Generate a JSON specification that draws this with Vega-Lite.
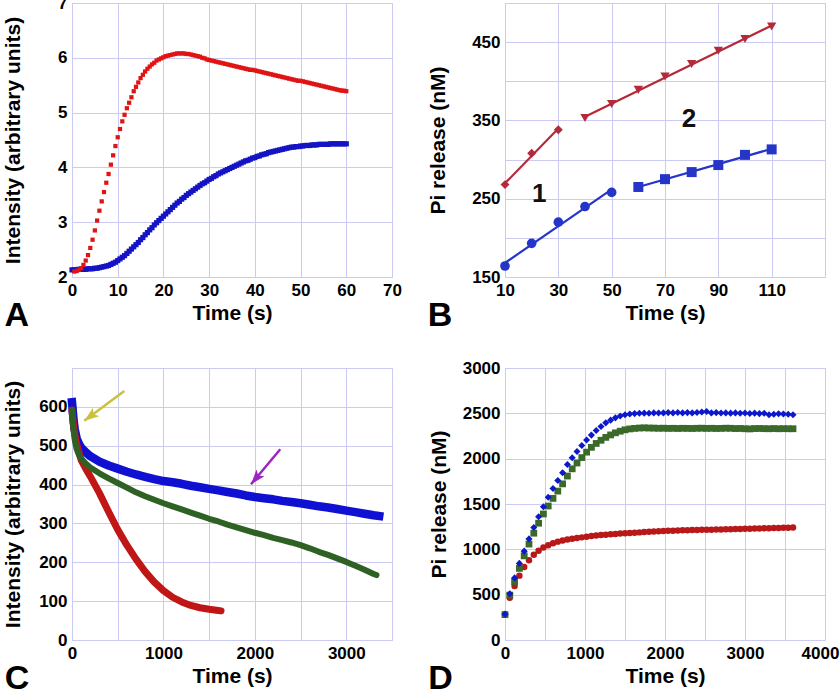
{
"$schema": "https://vega.github.io/schema/vega-lite/v6.json",
"padding": {"left": 2, "top": -7, "right": 0, "bottom": 0},
"background": "white",
"columns": 2,
"bounds": "flush",
"spacing": {"row": 91, "column": 113},
"resolve": {"scale": {"color": "independent", "shape": "independent", "size": "independent"}},
"concat": [
{
"width": 320, "height": 274,
"title": {"text": "A", "dx": 2},
"data": {"values": [
{"s":"b","t":0,"v":2.13},{"s":"b","t":0.5,"v":2.13},{"s":"b","t":1,"v":2.13},{"s":"b","t":1.5,"v":2.14},{"s":"b","t":2,"v":2.14},{"s":"b","t":2.5,"v":2.14},{"s":"b","t":3,"v":2.14},{"s":"b","t":3.5,"v":2.15},{"s":"b","t":4,"v":2.15},{"s":"b","t":4.5,"v":2.15},{"s":"b","t":5,"v":2.16},{"s":"b","t":5.5,"v":2.16},{"s":"b","t":6,"v":2.17},{"s":"b","t":6.5,"v":2.18},{"s":"b","t":7,"v":2.19},{"s":"b","t":7.5,"v":2.2},{"s":"b","t":8,"v":2.21},{"s":"b","t":8.5,"v":2.23},{"s":"b","t":9,"v":2.25},{"s":"b","t":9.5,"v":2.27},{"s":"b","t":10,"v":2.3},{"s":"b","t":10.5,"v":2.33},{"s":"b","t":11,"v":2.36},{"s":"b","t":11.5,"v":2.39},{"s":"b","t":12,"v":2.43},{"s":"b","t":12.5,"v":2.47},{"s":"b","t":13,"v":2.51},{"s":"b","t":13.5,"v":2.55},{"s":"b","t":14,"v":2.59},{"s":"b","t":14.5,"v":2.63},{"s":"b","t":15,"v":2.68},{"s":"b","t":15.5,"v":2.72},{"s":"b","t":16,"v":2.77},{"s":"b","t":16.5,"v":2.81},{"s":"b","t":17,"v":2.86},{"s":"b","t":17.5,"v":2.9},{"s":"b","t":18,"v":2.95},{"s":"b","t":18.5,"v":2.99},{"s":"b","t":19,"v":3.03},{"s":"b","t":19.5,"v":3.07},{"s":"b","t":20,"v":3.11},{"s":"b","t":20.5,"v":3.15},{"s":"b","t":21,"v":3.19},{"s":"b","t":21.5,"v":3.23},{"s":"b","t":22,"v":3.27},{"s":"b","t":22.5,"v":3.31},{"s":"b","t":23,"v":3.35},{"s":"b","t":23.5,"v":3.38},{"s":"b","t":24,"v":3.42},{"s":"b","t":24.5,"v":3.45},{"s":"b","t":25,"v":3.49},{"s":"b","t":25.5,"v":3.52},{"s":"b","t":26,"v":3.55},{"s":"b","t":26.5,"v":3.58},{"s":"b","t":27,"v":3.61},{"s":"b","t":27.5,"v":3.64},{"s":"b","t":28,"v":3.67},{"s":"b","t":28.5,"v":3.7},{"s":"b","t":29,"v":3.72},{"s":"b","t":29.5,"v":3.75},{"s":"b","t":30,"v":3.78},{"s":"b","t":30.5,"v":3.8},{"s":"b","t":31,"v":3.83},{"s":"b","t":31.5,"v":3.85},{"s":"b","t":32,"v":3.88},{"s":"b","t":32.5,"v":3.9},{"s":"b","t":33,"v":3.92},{"s":"b","t":33.5,"v":3.94},{"s":"b","t":34,"v":3.96},{"s":"b","t":34.5,"v":3.98},{"s":"b","t":35,"v":4.0},{"s":"b","t":35.5,"v":4.02},{"s":"b","t":36,"v":4.04},{"s":"b","t":36.5,"v":4.06},{"s":"b","t":37,"v":4.08},{"s":"b","t":37.5,"v":4.1},{"s":"b","t":38,"v":4.12},{"s":"b","t":38.5,"v":4.13},{"s":"b","t":39,"v":4.15},{"s":"b","t":39.5,"v":4.17},{"s":"b","t":40,"v":4.18},{"s":"b","t":40.5,"v":4.2},{"s":"b","t":41,"v":4.21},{"s":"b","t":41.5,"v":4.23},{"s":"b","t":42,"v":4.24},{"s":"b","t":42.5,"v":4.25},{"s":"b","t":43,"v":4.27},{"s":"b","t":43.5,"v":4.28},{"s":"b","t":44,"v":4.29},{"s":"b","t":44.5,"v":4.3},{"s":"b","t":45,"v":4.31},{"s":"b","t":45.5,"v":4.32},{"s":"b","t":46,"v":4.33},{"s":"b","t":46.5,"v":4.34},{"s":"b","t":47,"v":4.35},{"s":"b","t":47.5,"v":4.36},{"s":"b","t":48,"v":4.37},{"s":"b","t":48.5,"v":4.37},{"s":"b","t":49,"v":4.38},{"s":"b","t":49.5,"v":4.38},{"s":"b","t":50,"v":4.39},{"s":"b","t":50.5,"v":4.39},{"s":"b","t":51,"v":4.4},{"s":"b","t":51.5,"v":4.4},{"s":"b","t":52,"v":4.4},{"s":"b","t":52.5,"v":4.41},{"s":"b","t":53,"v":4.41},{"s":"b","t":53.5,"v":4.41},{"s":"b","t":54,"v":4.42},{"s":"b","t":54.5,"v":4.42},{"s":"b","t":55,"v":4.42},{"s":"b","t":55.5,"v":4.42},{"s":"b","t":56,"v":4.42},{"s":"b","t":56.5,"v":4.43},{"s":"b","t":57,"v":4.43},{"s":"b","t":57.5,"v":4.43},{"s":"b","t":58,"v":4.43},{"s":"b","t":58.5,"v":4.43},{"s":"b","t":59,"v":4.43},{"s":"b","t":59.5,"v":4.43},{"s":"b","t":60,"v":4.43},
{"s":"r","t":0.5,"v":2.1},{"s":"r","t":1,"v":2.11},{"s":"r","t":1.5,"v":2.13},{"s":"r","t":2,"v":2.16},{"s":"r","t":2.5,"v":2.22},{"s":"r","t":3,"v":2.3},{"s":"r","t":3.5,"v":2.4},{"s":"r","t":4,"v":2.53},{"s":"r","t":4.5,"v":2.68},{"s":"r","t":5,"v":2.85},{"s":"r","t":5.5,"v":3.03},{"s":"r","t":6,"v":3.21},{"s":"r","t":6.5,"v":3.38},{"s":"r","t":7,"v":3.55},{"s":"r","t":7.5,"v":3.72},{"s":"r","t":8,"v":3.88},{"s":"r","t":8.5,"v":4.05},{"s":"r","t":9,"v":4.22},{"s":"r","t":9.5,"v":4.39},{"s":"r","t":10,"v":4.55},{"s":"r","t":10.5,"v":4.7},{"s":"r","t":11,"v":4.84},{"s":"r","t":11.5,"v":4.96},{"s":"r","t":12,"v":5.08},{"s":"r","t":12.5,"v":5.18},{"s":"r","t":13,"v":5.28},{"s":"r","t":13.5,"v":5.39},{"s":"r","t":14,"v":5.47},{"s":"r","t":14.5,"v":5.55},{"s":"r","t":15,"v":5.63},{"s":"r","t":15.5,"v":5.69},{"s":"r","t":16,"v":5.75},{"s":"r","t":16.5,"v":5.8},{"s":"r","t":17,"v":5.84},{"s":"r","t":17.5,"v":5.88},{"s":"r","t":18,"v":5.91},{"s":"r","t":18.5,"v":5.95},{"s":"r","t":19,"v":5.97},{"s":"r","t":19.5,"v":5.99},{"s":"r","t":20,"v":6.01},{"s":"r","t":20.5,"v":6.03},{"s":"r","t":21,"v":6.04},{"s":"r","t":21.5,"v":6.05},{"s":"r","t":22,"v":6.06},{"s":"r","t":22.5,"v":6.07},{"s":"r","t":23,"v":6.08},{"s":"r","t":23.5,"v":6.08},{"s":"r","t":24,"v":6.08},{"s":"r","t":24.5,"v":6.08},{"s":"r","t":25,"v":6.07},{"s":"r","t":25.5,"v":6.07},{"s":"r","t":26,"v":6.06},{"s":"r","t":26.5,"v":6.05},{"s":"r","t":27,"v":6.04},{"s":"r","t":27.5,"v":6.03},{"s":"r","t":28,"v":6.02},{"s":"r","t":28.5,"v":6.0},{"s":"r","t":29,"v":5.99},{"s":"r","t":29.5,"v":5.97},{"s":"r","t":30,"v":5.96},{"s":"r","t":30.5,"v":5.95},{"s":"r","t":31,"v":5.94},{"s":"r","t":31.5,"v":5.93},{"s":"r","t":32,"v":5.92},{"s":"r","t":32.5,"v":5.91},{"s":"r","t":33,"v":5.9},{"s":"r","t":33.5,"v":5.89},{"s":"r","t":34,"v":5.88},{"s":"r","t":34.5,"v":5.87},{"s":"r","t":35,"v":5.86},{"s":"r","t":35.5,"v":5.85},{"s":"r","t":36,"v":5.84},{"s":"r","t":36.5,"v":5.83},{"s":"r","t":37,"v":5.82},{"s":"r","t":37.5,"v":5.81},{"s":"r","t":38,"v":5.8},{"s":"r","t":38.5,"v":5.79},{"s":"r","t":39,"v":5.78},{"s":"r","t":39.5,"v":5.78},{"s":"r","t":40,"v":5.77},{"s":"r","t":40.5,"v":5.76},{"s":"r","t":41,"v":5.75},{"s":"r","t":41.5,"v":5.74},{"s":"r","t":42,"v":5.73},{"s":"r","t":42.5,"v":5.72},{"s":"r","t":43,"v":5.71},{"s":"r","t":43.5,"v":5.7},{"s":"r","t":44,"v":5.69},{"s":"r","t":44.5,"v":5.68},{"s":"r","t":45,"v":5.67},{"s":"r","t":45.5,"v":5.66},{"s":"r","t":46,"v":5.65},{"s":"r","t":46.5,"v":5.64},{"s":"r","t":47,"v":5.63},{"s":"r","t":47.5,"v":5.62},{"s":"r","t":48,"v":5.61},{"s":"r","t":48.5,"v":5.6},{"s":"r","t":49,"v":5.59},{"s":"r","t":49.5,"v":5.58},{"s":"r","t":50,"v":5.58},{"s":"r","t":50.5,"v":5.57},{"s":"r","t":51,"v":5.56},{"s":"r","t":51.5,"v":5.55},{"s":"r","t":52,"v":5.54},{"s":"r","t":52.5,"v":5.53},{"s":"r","t":53,"v":5.52},{"s":"r","t":53.5,"v":5.51},{"s":"r","t":54,"v":5.5},{"s":"r","t":54.5,"v":5.49},{"s":"r","t":55,"v":5.48},{"s":"r","t":55.5,"v":5.47},{"s":"r","t":56,"v":5.46},{"s":"r","t":56.5,"v":5.45},{"s":"r","t":57,"v":5.44},{"s":"r","t":57.5,"v":5.43},{"s":"r","t":58,"v":5.42},{"s":"r","t":58.5,"v":5.41},{"s":"r","t":59,"v":5.4},{"s":"r","t":59.5,"v":5.4},{"s":"r","t":60,"v":5.39}
]},
"mark": {"type": "point", "shape": "square", "filled": true, "opacity": 1},
"encoding": {
"x": {"field": "t", "type": "quantitative", "scale": {"domain": [0, 70], "nice": false, "zero": false}, "axis": {"title": "Time (s)", "values": [0,10,20,30,40,50,60,70], "format": "d"}},
"y": {"field": "v", "type": "quantitative", "scale": {"domain": [2, 7], "nice": false, "zero": false}, "axis": {"title": "Intensity (arbitrary units)", "values": [2,3,4,5,6,7], "format": "d", "titlePadding": 34}},
"color": {"field": "s", "type": "nominal", "scale": {"domain": ["r","b"], "range": ["#e01414","#1414c4"]}, "legend": null},
"size": {"field": "s", "type": "nominal", "scale": {"domain": ["r","b"], "range": [18, 27]}, "legend": null}
}
},
{
"width": 320, "height": 274,
"title": {"text": "B", "dx": 0},
"data": {"values": [
{"seg":"r1","c":"r","t":10,"v":268},{"seg":"r1","c":"r","t":20,"v":308},{"seg":"r1","c":"r","t":30,"v":338},
{"seg":"r2","c":"r","t":40,"v":353},{"seg":"r2","c":"r","t":50,"v":371},{"seg":"r2","c":"r","t":60,"v":389},{"seg":"r2","c":"r","t":70,"v":406},{"seg":"r2","c":"r","t":80,"v":422},{"seg":"r2","c":"r","t":90,"v":439},{"seg":"r2","c":"r","t":100,"v":454},{"seg":"r2","c":"r","t":110,"v":470},
{"seg":"b1","c":"b","t":10,"v":164},{"seg":"b1","c":"b","t":20,"v":193},{"seg":"b1","c":"b","t":30,"v":220},{"seg":"b1","c":"b","t":40,"v":240},{"seg":"b1","c":"b","t":50,"v":258},
{"seg":"b2","c":"b","t":60,"v":265},{"seg":"b2","c":"b","t":70,"v":275},{"seg":"b2","c":"b","t":80,"v":284},{"seg":"b2","c":"b","t":90,"v":293},{"seg":"b2","c":"b","t":100,"v":306},{"seg":"b2","c":"b","t":110,"v":313}
]},
"encoding": {
"x": {"field": "t", "type": "quantitative", "scale": {"domain": [10, 130], "nice": false, "zero": false}, "axis": {"title": "Time (s)", "values": [10,30,50,70,90,110,130], "format": "d", "labelExpr": "datum.value == 130 ? '' : datum.label"}},
"y": {"field": "v", "type": "quantitative", "scale": {"domain": [150, 500], "nice": false, "zero": false}, "axis": {"title": "Pi release (nM)", "values": [150,200,250,300,350,400,450,500], "format": "d", "labelExpr": "datum.value % 100 == 50 ? datum.label : ''", "titlePadding": 23}}
},
"layer": [
{"transform": [{"regression": "v", "on": "t", "groupby": ["seg","c"]}],
 "mark": {"type": "line", "strokeWidth": 2.2},
 "encoding": {"color": {"field": "c", "type": "nominal", "scale": {"domain": ["r","b"], "range": ["#b52a3a","#2535c8"]}, "legend": null}, "detail": {"field": "seg"}}},
{"mark": {"type": "point", "filled": true, "opacity": 1},
 "encoding": {
  "color": {"field": "c", "type": "nominal", "scale": {"domain": ["r","b"], "range": ["#b52a3a","#2535c8"]}, "legend": null},
  "shape": {"field": "seg", "type": "nominal", "scale": {"domain": ["r1","r2","b1","b2"], "range": ["diamond","triangle-down","circle","square"]}, "legend": null},
  "size": {"field": "seg", "type": "nominal", "scale": {"domain": ["r1","r2","b1","b2"], "range": [80, 100, 60, 68]}, "legend": null}
 }},
{"data": {"values": [{"t": 22.8, "v": 256, "lab": "1"}, {"t": 79, "v": 352, "lab": "2"}]},
 "mark": {"type": "text", "fontSize": 26, "fontWeight": "bold", "color": "#111", "font": "Liberation Sans"},
 "encoding": {"text": {"field": "lab"}}}
]
},
{
"width": 320, "height": 272,
"title": {"text": "C", "dx": 2},
"data": {"values": [
{"s":"b","t":0,"v":612},{"s":"b","t":5,"v":600},{"s":"b","t":10,"v":585},{"s":"b","t":20,"v":560},{"s":"b","t":30,"v":542},{"s":"b","t":50,"v":520},{"s":"b","t":75,"v":505},{"s":"b","t":100,"v":495},{"s":"b","t":150,"v":483},{"s":"b","t":200,"v":473},{"s":"b","t":300,"v":459},{"s":"b","t":400,"v":449},{"s":"b","t":500,"v":441},{"s":"b","t":600,"v":433},{"s":"b","t":700,"v":426},{"s":"b","t":800,"v":420},{"s":"b","t":900,"v":414},{"s":"b","t":1000,"v":409},{"s":"b","t":1100,"v":406},{"s":"b","t":1200,"v":402},{"s":"b","t":1300,"v":397},{"s":"b","t":1400,"v":393},{"s":"b","t":1500,"v":389},{"s":"b","t":1600,"v":385},{"s":"b","t":1700,"v":381},{"s":"b","t":1800,"v":377},{"s":"b","t":1900,"v":372},{"s":"b","t":2000,"v":368},{"s":"b","t":2100,"v":365},{"s":"b","t":2200,"v":362},{"s":"b","t":2300,"v":358},{"s":"b","t":2400,"v":355},{"s":"b","t":2500,"v":352},{"s":"b","t":2600,"v":348},{"s":"b","t":2700,"v":344},{"s":"b","t":2800,"v":341},{"s":"b","t":2900,"v":337},{"s":"b","t":3000,"v":333},{"s":"b","t":3100,"v":329},{"s":"b","t":3200,"v":325},{"s":"b","t":3300,"v":321},{"s":"b","t":3360,"v":319},
{"s":"r","t":0,"v":592},{"s":"r","t":20,"v":545},{"s":"r","t":50,"v":505},{"s":"r","t":100,"v":463},{"s":"r","t":150,"v":441},{"s":"r","t":200,"v":421},{"s":"r","t":300,"v":378},{"s":"r","t":400,"v":330},{"s":"r","t":500,"v":284},{"s":"r","t":600,"v":244},{"s":"r","t":700,"v":208},{"s":"r","t":800,"v":176},{"s":"r","t":900,"v":149},{"s":"r","t":1000,"v":127},{"s":"r","t":1100,"v":110},{"s":"r","t":1200,"v":98},{"s":"r","t":1300,"v":89},{"s":"r","t":1400,"v":83},{"s":"r","t":1500,"v":79},{"s":"r","t":1600,"v":76},{"s":"r","t":1630,"v":75},
{"s":"g","t":0,"v":592},{"s":"g","t":5,"v":575},{"s":"g","t":10,"v":558},{"s":"g","t":20,"v":533},{"s":"g","t":30,"v":515},{"s":"g","t":50,"v":492},{"s":"g","t":75,"v":477},{"s":"g","t":100,"v":467},{"s":"g","t":150,"v":454},{"s":"g","t":200,"v":444},{"s":"g","t":300,"v":429},{"s":"g","t":400,"v":416},{"s":"g","t":500,"v":404},{"s":"g","t":600,"v":392},{"s":"g","t":700,"v":380},{"s":"g","t":800,"v":370},{"s":"g","t":900,"v":361},{"s":"g","t":1000,"v":352},{"s":"g","t":1100,"v":344},{"s":"g","t":1200,"v":336},{"s":"g","t":1300,"v":328},{"s":"g","t":1400,"v":320},{"s":"g","t":1500,"v":312},{"s":"g","t":1600,"v":305},{"s":"g","t":1700,"v":297},{"s":"g","t":1800,"v":290},{"s":"g","t":1900,"v":283},{"s":"g","t":2000,"v":276},{"s":"g","t":2100,"v":270},{"s":"g","t":2200,"v":263},{"s":"g","t":2300,"v":257},{"s":"g","t":2400,"v":251},{"s":"g","t":2500,"v":244},{"s":"g","t":2600,"v":236},{"s":"g","t":2700,"v":227},{"s":"g","t":2800,"v":219},{"s":"g","t":2900,"v":210},{"s":"g","t":3000,"v":201},{"s":"g","t":3100,"v":191},{"s":"g","t":3200,"v":181},{"s":"g","t":3300,"v":170},{"s":"g","t":3330,"v":167}
]},
"encoding": {
"x": {"field": "t", "type": "quantitative", "scale": {"domain": [0, 3500], "nice": false, "zero": false}, "axis": {"title": "Time (s)", "values": [0,500,1000,1500,2000,2500,3000,3500], "format": "d", "labelExpr": "datum.value % 1000 == 0 ? datum.label : ''"}},
"y": {"field": "v", "type": "quantitative", "scale": {"domain": [0, 700], "nice": false, "zero": false}, "axis": {"title": "Intensity (arbitrary units)", "values": [0,100,200,300,400,500,600,700], "format": "d", "labelExpr": "datum.value == 700 ? '' : datum.label", "titlePadding": 15}}
},
"layer": [
{"transform": [{"filter": "datum.s == 'b'"}], "mark": {"type": "line", "color": "#1010d2", "strokeWidth": 8.5, "strokeCap": "square", "strokeJoin": "round"}},
{"transform": [{"filter": "datum.s == 'r'"}], "mark": {"type": "line", "color": "#c01616", "strokeWidth": 7, "strokeCap": "round", "strokeJoin": "round"}},
{"transform": [{"filter": "datum.s == 'g'"}], "mark": {"type": "line", "color": "#2f6124", "strokeWidth": 6, "strokeCap": "round", "strokeJoin": "round"}},
{"data": {"values": [{"t": 572, "v": 641, "t2": 135, "v2": 564}]}, "mark": {"type": "rule", "color": "#c9c23c", "strokeWidth": 2.5}, "encoding": {"x2": {"field": "t2"}, "y2": {"field": "v2"}}},
{"data": {"values": [{"t": 135, "v": 564}]}, "mark": {"type": "point", "filled": true, "opacity": 1, "color": "#c9c23c", "shape": "M0,0L0.6,1.7L0,1.3L-0.6,1.7Z", "size": 300, "angle": 233}},
{"data": {"values": [{"t": 2278, "v": 491, "t2": 1958, "v2": 401}]}, "mark": {"type": "rule", "color": "#9a26c0", "strokeWidth": 2.5}, "encoding": {"x2": {"field": "t2"}, "y2": {"field": "v2"}}},
{"data": {"values": [{"t": 1958, "v": 401}]}, "mark": {"type": "point", "filled": true, "opacity": 1, "color": "#9a26c0", "shape": "M0,0L0.6,1.7L0,1.3L-0.6,1.7Z", "size": 300, "angle": 220}}
]
},
{
"width": 320, "height": 272,
"title": {"text": "D", "dx": 0},
"data": {"values": [
{"s":"r","t":0,"v":280},{"s":"r","t":60,"v":465},{"s":"r","t":120,"v":595},{"s":"r","t":180,"v":710},{"s":"r","t":240,"v":805},{"s":"r","t":300,"v":880},{"s":"r","t":360,"v":940},{"s":"r","t":420,"v":985},{"s":"r","t":480,"v":1020},{"s":"r","t":540,"v":1045},{"s":"r","t":600,"v":1068},{"s":"r","t":660,"v":1085},{"s":"r","t":720,"v":1097},{"s":"r","t":780,"v":1108},{"s":"r","t":840,"v":1117},{"s":"r","t":900,"v":1125},{"s":"r","t":960,"v":1132},{"s":"r","t":1020,"v":1140},{"s":"r","t":1080,"v":1146},{"s":"r","t":1140,"v":1152},{"s":"r","t":1200,"v":1157},{"s":"r","t":1260,"v":1162},{"s":"r","t":1320,"v":1166},{"s":"r","t":1380,"v":1170},{"s":"r","t":1440,"v":1174},{"s":"r","t":1500,"v":1178},{"s":"r","t":1560,"v":1181},{"s":"r","t":1620,"v":1184},{"s":"r","t":1680,"v":1187},{"s":"r","t":1740,"v":1190},{"s":"r","t":1800,"v":1193},{"s":"r","t":1860,"v":1196},{"s":"r","t":1920,"v":1199},{"s":"r","t":1980,"v":1202},{"s":"r","t":2040,"v":1204},{"s":"r","t":2100,"v":1206},{"s":"r","t":2160,"v":1208},{"s":"r","t":2220,"v":1210},{"s":"r","t":2280,"v":1211},{"s":"r","t":2340,"v":1212},{"s":"r","t":2400,"v":1214},{"s":"r","t":2460,"v":1215},{"s":"r","t":2520,"v":1216},{"s":"r","t":2580,"v":1217},{"s":"r","t":2640,"v":1218},{"s":"r","t":2700,"v":1220},{"s":"r","t":2760,"v":1221},{"s":"r","t":2820,"v":1222},{"s":"r","t":2880,"v":1224},{"s":"r","t":2940,"v":1225},{"s":"r","t":3000,"v":1227},{"s":"r","t":3060,"v":1228},{"s":"r","t":3120,"v":1229},{"s":"r","t":3180,"v":1230},{"s":"r","t":3240,"v":1232},{"s":"r","t":3300,"v":1233},{"s":"r","t":3360,"v":1235},{"s":"r","t":3420,"v":1236},{"s":"r","t":3480,"v":1238},{"s":"r","t":3540,"v":1239},{"s":"r","t":3600,"v":1240},
{"s":"g","t":0,"v":280},{"s":"g","t":60,"v":495},{"s":"g","t":120,"v":645},{"s":"g","t":180,"v":790},{"s":"g","t":240,"v":928},{"s":"g","t":300,"v":1058},{"s":"g","t":360,"v":1178},{"s":"g","t":420,"v":1288},{"s":"g","t":480,"v":1390},{"s":"g","t":540,"v":1478},{"s":"g","t":600,"v":1562},{"s":"g","t":660,"v":1642},{"s":"g","t":720,"v":1722},{"s":"g","t":780,"v":1808},{"s":"g","t":840,"v":1888},{"s":"g","t":900,"v":1952},{"s":"g","t":960,"v":2012},{"s":"g","t":1020,"v":2072},{"s":"g","t":1080,"v":2125},{"s":"g","t":1140,"v":2168},{"s":"g","t":1200,"v":2203},{"s":"g","t":1260,"v":2235},{"s":"g","t":1320,"v":2262},{"s":"g","t":1380,"v":2285},{"s":"g","t":1440,"v":2303},{"s":"g","t":1500,"v":2318},{"s":"g","t":1560,"v":2328},{"s":"g","t":1620,"v":2334},{"s":"g","t":1680,"v":2338},{"s":"g","t":1740,"v":2340},{"s":"g","t":1800,"v":2338},{"s":"g","t":1860,"v":2337},{"s":"g","t":1920,"v":2335},{"s":"g","t":1980,"v":2336},{"s":"g","t":2040,"v":2334},{"s":"g","t":2100,"v":2335},{"s":"g","t":2160,"v":2333},{"s":"g","t":2220,"v":2335},{"s":"g","t":2280,"v":2334},{"s":"g","t":2340,"v":2333},{"s":"g","t":2400,"v":2335},{"s":"g","t":2460,"v":2336},{"s":"g","t":2520,"v":2334},{"s":"g","t":2580,"v":2335},{"s":"g","t":2640,"v":2333},{"s":"g","t":2700,"v":2334},{"s":"g","t":2760,"v":2336},{"s":"g","t":2820,"v":2335},{"s":"g","t":2880,"v":2332},{"s":"g","t":2940,"v":2333},{"s":"g","t":3000,"v":2330},{"s":"g","t":3060,"v":2328},{"s":"g","t":3120,"v":2332},{"s":"g","t":3180,"v":2333},{"s":"g","t":3240,"v":2331},{"s":"g","t":3300,"v":2330},{"s":"g","t":3360,"v":2332},{"s":"g","t":3420,"v":2330},{"s":"g","t":3480,"v":2331},{"s":"g","t":3540,"v":2330},{"s":"g","t":3600,"v":2330},
{"s":"b","t":0,"v":285},{"s":"b","t":60,"v":510},{"s":"b","t":120,"v":685},{"s":"b","t":180,"v":845},{"s":"b","t":240,"v":980},{"s":"b","t":300,"v":1115},{"s":"b","t":360,"v":1240},{"s":"b","t":420,"v":1360},{"s":"b","t":480,"v":1470},{"s":"b","t":540,"v":1575},{"s":"b","t":600,"v":1670},{"s":"b","t":660,"v":1760},{"s":"b","t":720,"v":1845},{"s":"b","t":780,"v":1935},{"s":"b","t":840,"v":2010},{"s":"b","t":900,"v":2080},{"s":"b","t":960,"v":2145},{"s":"b","t":1020,"v":2205},{"s":"b","t":1080,"v":2260},{"s":"b","t":1140,"v":2310},{"s":"b","t":1200,"v":2355},{"s":"b","t":1260,"v":2395},{"s":"b","t":1320,"v":2425},{"s":"b","t":1380,"v":2450},{"s":"b","t":1440,"v":2470},{"s":"b","t":1500,"v":2485},{"s":"b","t":1560,"v":2492},{"s":"b","t":1620,"v":2497},{"s":"b","t":1680,"v":2500},{"s":"b","t":1740,"v":2502},{"s":"b","t":1800,"v":2500},{"s":"b","t":1860,"v":2505},{"s":"b","t":1920,"v":2503},{"s":"b","t":1980,"v":2505},{"s":"b","t":2040,"v":2508},{"s":"b","t":2100,"v":2505},{"s":"b","t":2160,"v":2510},{"s":"b","t":2220,"v":2505},{"s":"b","t":2280,"v":2508},{"s":"b","t":2340,"v":2505},{"s":"b","t":2400,"v":2510},{"s":"b","t":2460,"v":2515},{"s":"b","t":2520,"v":2520},{"s":"b","t":2580,"v":2505},{"s":"b","t":2640,"v":2508},{"s":"b","t":2700,"v":2503},{"s":"b","t":2760,"v":2505},{"s":"b","t":2820,"v":2502},{"s":"b","t":2880,"v":2505},{"s":"b","t":2940,"v":2500},{"s":"b","t":3000,"v":2503},{"s":"b","t":3060,"v":2498},{"s":"b","t":3120,"v":2502},{"s":"b","t":3180,"v":2497},{"s":"b","t":3240,"v":2500},{"s":"b","t":3300,"v":2485},{"s":"b","t":3360,"v":2490},{"s":"b","t":3420,"v":2495},{"s":"b","t":3480,"v":2492},{"s":"b","t":3540,"v":2490},{"s":"b","t":3600,"v":2485}
]},
"mark": {"type": "point", "filled": true, "opacity": 1},
"encoding": {
"x": {"field": "t", "type": "quantitative", "scale": {"domain": [0, 4000], "nice": false, "zero": false}, "axis": {"title": "Time (s)", "values": [0,500,1000,1500,2000,2500,3000,3500,4000], "format": "d", "labelExpr": "datum.value % 1000 == 0 ? datum.label : ''", "labelOffset": {"condition": {"test": "datum.value == 4000", "value": -5}, "value": 0}}},
"y": {"field": "v", "type": "quantitative", "scale": {"domain": [0, 3000], "nice": false, "zero": false}, "axis": {"title": "Pi release (nM)", "values": [0,500,1000,1500,2000,2500,3000], "format": "d", "titlePadding": 13}},
"color": {"field": "s", "type": "nominal", "scale": {"domain": ["r","g","b"], "range": ["#b81818","#3a692a","#0c18cc"]}, "legend": null},
"shape": {"field": "s", "type": "nominal", "scale": {"domain": ["r","g","b"], "range": ["circle","square","diamond"]}, "legend": null},
"size": {"field": "s", "type": "nominal", "scale": {"domain": ["r","g","b"], "range": [42, 50, 80]}, "legend": null}
}
}
],
"config": {
"font": "Liberation Sans",
"view": {"stroke": "#c4c4ee", "strokeWidth": 1},
"axis": {"labelFontSize": 17, "labelFontWeight": "bold", "labelColor": "#000", "labelPadding": 5, "labelFlush": false, "labelOverlap": false, "ticks": false, "domain": false, "grid": true, "gridColor": "#cacaf2", "gridWidth": 1, "gridOpacity": 1, "titleFontSize": 21, "titleFontWeight": "bold", "titleColor": "#000", "titlePadding": 4},
"title": {"fontSize": 34, "fontWeight": "bold", "color": "#000", "orient": "bottom", "anchor": "start", "frame": "bounds", "offset": 0, "dy": -28}
}
}
